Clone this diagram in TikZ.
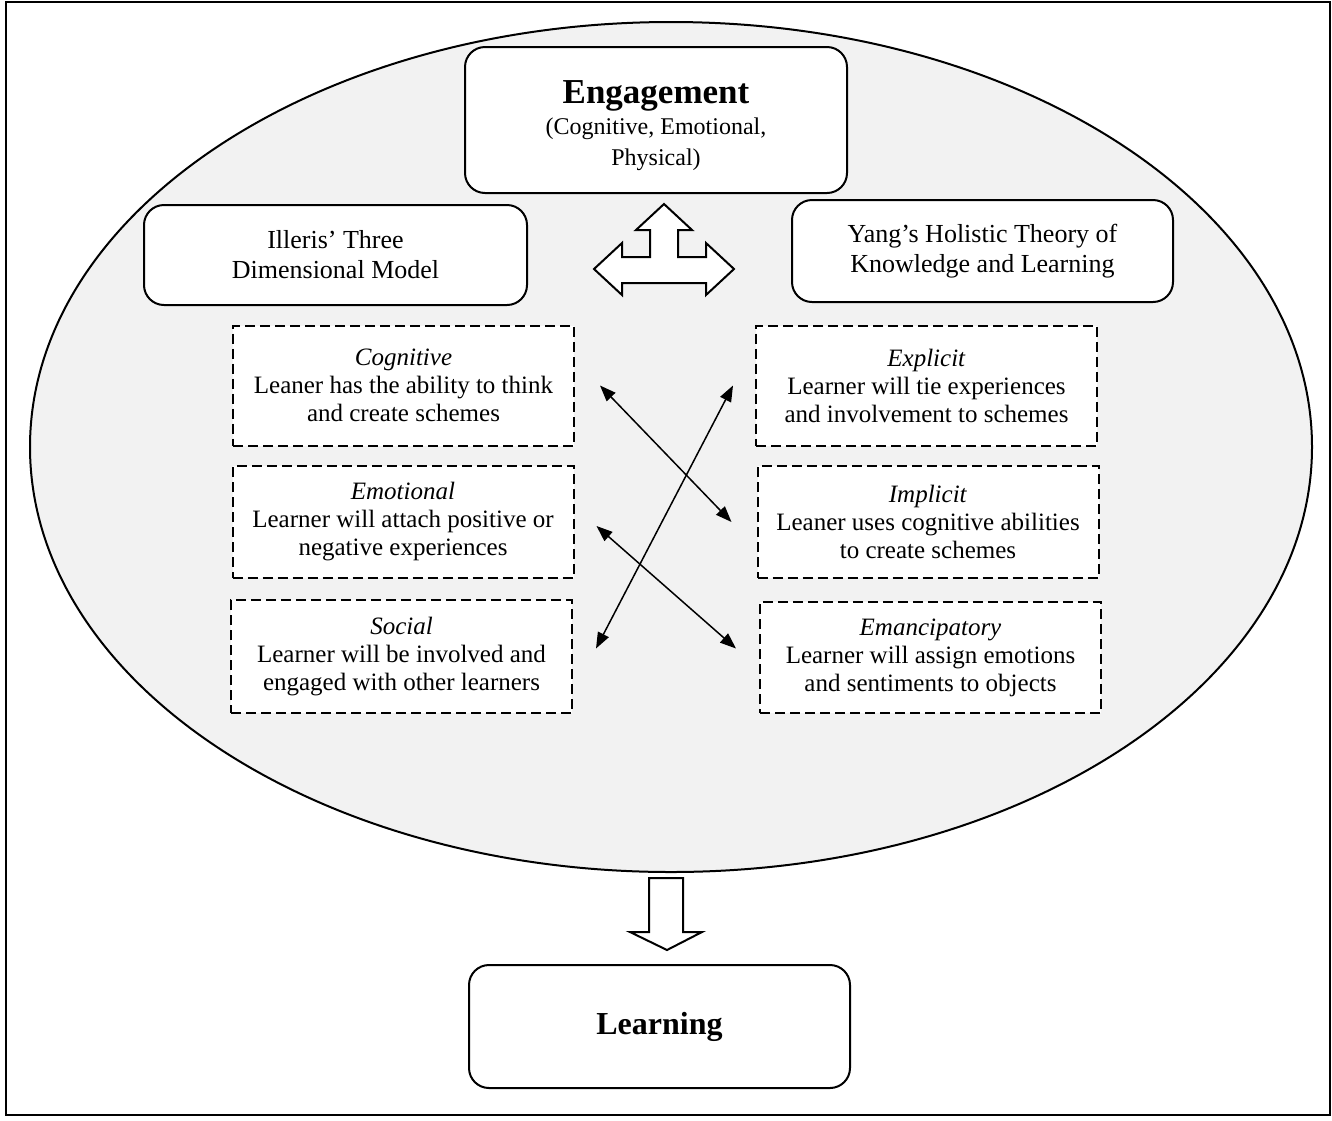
\documentclass[tikz,border=0pt]{standalone}
\usepackage{fontspec}
\setmainfont{Liberation Serif}
\usepackage{xcolor}
\usetikzlibrary{arrows.meta, positioning}
\definecolor{ovalgray}{HTML}{F2F2F2}
\newcommand{\dimname}[1]{\textit{#1}}

\begin{document}
\begin{tikzpicture}[
            x=0.5pt, y=-0.5pt,
            every node/.style={align=center},
            mainbox/.style={draw, fill=white, rounded corners=10pt, line width=1pt,
                font=\fontsize{13}{15}\selectfont},
            dimbox/.style={draw, fill=white, dash pattern=on 5pt off 2.5pt, line width=1pt,
                minimum width=170.5pt, font=\fontsize{12.5}{14}\selectfont},
            link/.style={{Triangle[length=8pt,width=6pt]}-{Triangle[length=8pt,width=6pt]}, line width=0.75pt},
            blockarrow/.style={draw, fill=white, line width=1pt, line join=miter},
        ]
        \useasboundingbox (0,0) rectangle (1332,1120);
        \draw[line width=1pt] (6,2) rectangle (1330,1115);
        \draw[fill=ovalgray, line width=1pt] (671,447) ellipse [x radius=320.5pt, y radius=212.5pt];

        \node[mainbox, minimum width=191pt, minimum height=73pt] (engage) at (656,120)
            {{\fontsize{17.5}{20}\selectfont\bfseries\rule{0pt}{17pt}Engagement}\\[0.5pt]
             {\fontsize{12}{14}\selectfont (Cognitive, Emotional,}\\[0.5pt]
             {\fontsize{12}{14}\selectfont Physical)}};
        \node[mainbox, minimum width=191.5pt, minimum height=50pt] (illeris) at (335.5,255)
            {Illeris' Three\\ Dimensional Model};
        \node[mainbox, minimum width=190.5pt, minimum height=51pt] (yang) at (982.5,251)
            {Yang's Holistic Theory of\\ Knowledge and Learning};

        \node[dimbox, minimum height=60pt] (cog) at (403.5,385.5)
            {\dimname{Cognitive}\\ Leaner has the ability to think\\ and create schemes};
        \node[dimbox, minimum height=56pt] (emo) at (403,522)
            {\dimname{Emotional}\\ Learner will attach positive or\\ negative experiences};
        \node[dimbox, minimum height=56.5pt] (soc) at (401.5,656.5)
            {\dimname{Social}\\ Learner will be involved and\\ engaged with other learners};
        \node[dimbox, minimum height=60pt] (expl) at (926.5,385.5)
            {\dimname{Explicit}\\ Learner will tie experiences\\ and involvement to schemes};
        \node[dimbox, minimum height=56pt] (impl) at (928,522)
            {\dimname{Implicit}\\ Leaner uses cognitive abilities\\ to create schemes};
        \node[dimbox, minimum height=55.5pt] (emanc) at (930.5,657.5)
            {\dimname{Emancipatory}\\ Learner will assign emotions\\ and sentiments to objects};

        \node[mainbox, minimum width=190.5pt, minimum height=61.5pt,
            font=\fontsize{16}{18}\selectfont\bfseries] (learn) at (659.5,1026.5) {Learning};

        % three way arrow between the two models
        \draw[blockarrow] (664,204) -- (692,230) -- (678,230) -- (678,257) -- (706,257)
            -- (706,243) -- (734,269) -- (706,295) -- (706,283) -- (622,283) -- (622,295)
            -- (594,269) -- (622,243) -- (622,257) -- (650,257) -- (650,230) -- (636,230) -- cycle;

        % links between the dimensions
        \draw[link] ([xshift=12.5pt]cog.east) -- ([xshift=-12.5pt]impl.west);
        \draw[link] ([xshift=11.5pt,yshift=4pt]soc.east) -- ([xshift=-11pt]expl.west);
        \draw[link] ([xshift=11pt,yshift=-2pt]emo.east) -- ([xshift=-11.5pt,yshift=4.5pt]emanc.west);

        % engagement leads to learning
        \draw[blockarrow] (649,878) -- (683,878) -- (683,932) -- (702,932) -- (667,950)
            -- (630,932) -- (649,932) -- cycle;
\end{tikzpicture}
\end{document}
